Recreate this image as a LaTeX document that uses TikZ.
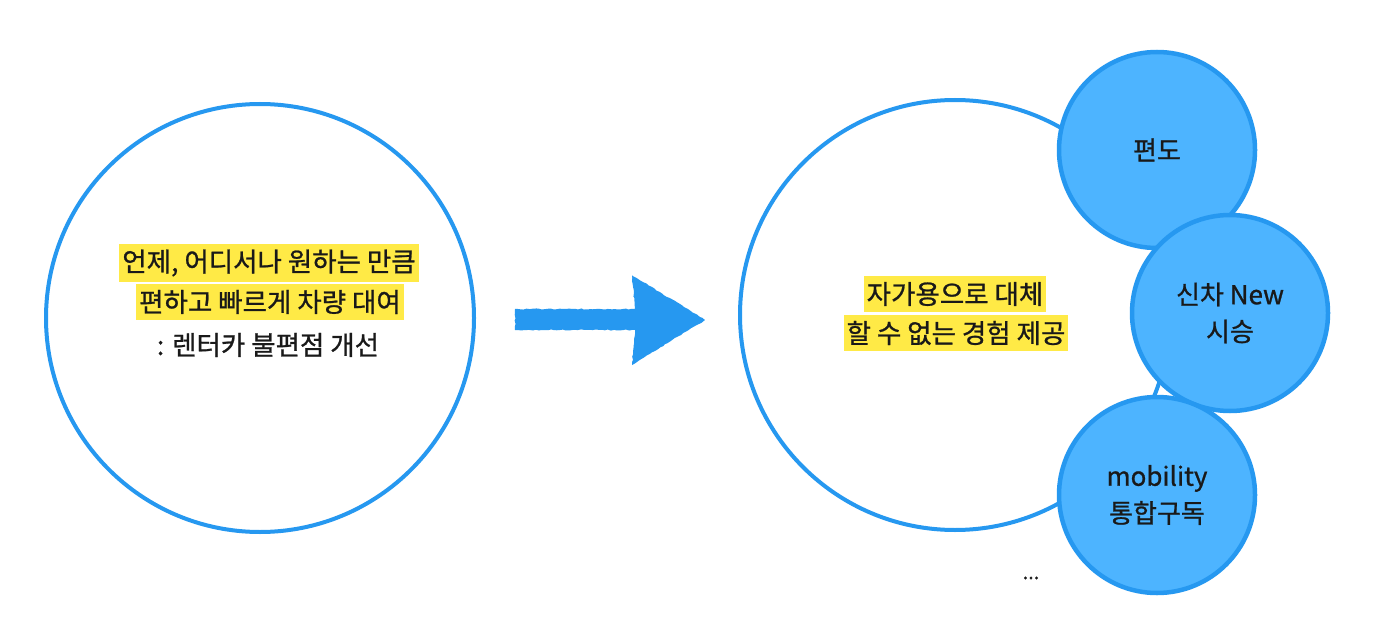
\documentclass[tikz,border=0pt]{standalone}
\usepackage{fontspec}
\setmainfont{Noto Sans CJK KR}[FakeBold=0.9]
\usetikzlibrary{decorations.pathmorphing}
\definecolor{strokeblue}{RGB}{38,152,240}
\definecolor{fillblue}{RGB}{77,180,255}
\definecolor{hl}{RGB}{255,234,70}
\definecolor{txt}{RGB}{25,25,25}
\tikzset{
  rough/.style={decorate, decoration={random steps, segment length=3pt, amplitude=0.6pt}},
  bigcircle/.style={circle, draw=strokeblue, line width=4pt, minimum size=#1},
  smallcircle/.style={circle, draw=strokeblue, fill=fillblue, line width=4.5pt, minimum size=196pt, align=center, text=txt, font=\fontsize{26}{37}\selectfont},
  hltext/.style={fill=hl, inner xsep=3pt, inner ysep=6pt, text=txt, font=\fontsize{26.5}{30}\selectfont},
  plaintext/.style={inner sep=2pt, text=txt, font=\fontsize{26.5}{30}\selectfont},
}
\begin{document}
\begin{tikzpicture}[x=1pt,y=-1pt]
\useasboundingbox (0,0) rectangle (1380,639);
\fill[white] (0,0) rectangle (1380,639);
% left circle
\node[bigcircle=428pt] (left) at (260,318) {};
\node[hltext] (l1) at (269,263) {언제, 어디서나 원하는 만큼};
\node[hltext] (l2) at (270,302) {편하고 빠르게 차량 대여};
\node[plaintext] (l3) at (268,345) {: 렌터카 불편점 개선};
% arrow
\coordinate (as) at (515,320);
\coordinate (ae) at (705,320);
\fill[strokeblue, rough] ([yshift=-10pt]as) -- ([xshift=-70pt,yshift=-10pt]ae) -- ([xshift=-73pt,yshift=-45pt]ae) -- (ae) -- ([xshift=-73pt,yshift=45pt]ae) -- ([xshift=-70pt,yshift=11pt]ae) -- ([yshift=11pt]as) -- cycle;
% right circle
\node[bigcircle=430pt] (right) at (955,315) {};
\node[hltext] (r1) at (955,294) {자가용으로 대체};
\node[hltext] (r2) at (956,333) {할 수 없는 경험 제공};
% small circles
\node[smallcircle] (c1) at (1157,150) {편도};
\node[smallcircle] (c2) at (1230,313) {신차 New\\시승};
\node[smallcircle] (c3) at (1157,495) {mobility\\통합구독};
\node[text=txt, font=\fontsize{20}{24}\selectfont] (dots) at (1031,578) {...};
\end{tikzpicture}
\end{document}
